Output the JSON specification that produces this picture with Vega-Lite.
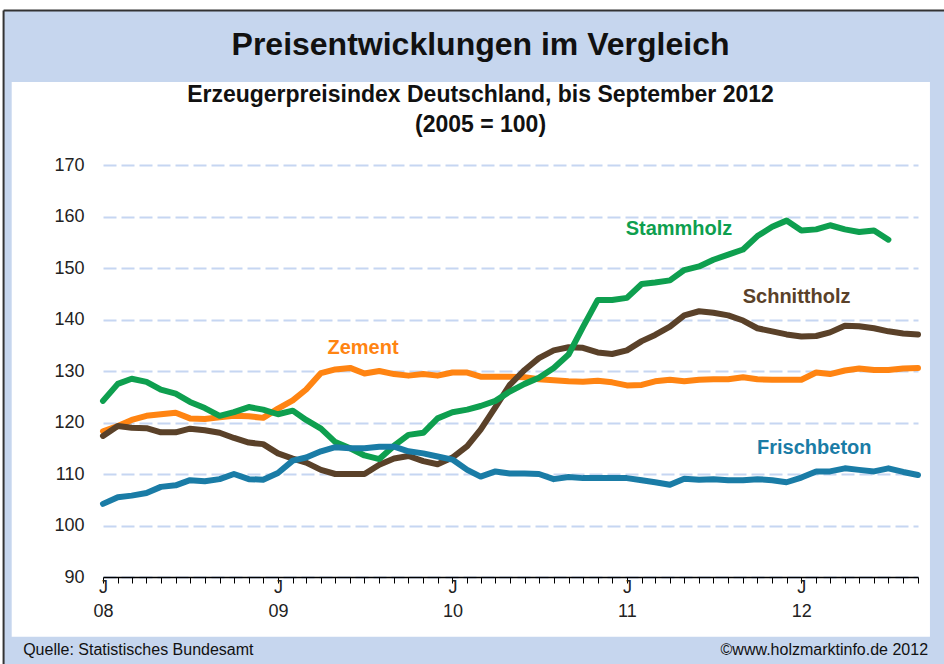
{
  "$schema": "https://vega.github.io/schema/vega-lite/v6.json",
  "width": 815,
  "height": 412,
  "autosize": {"type": "none"},
  "padding": {"left": 103, "top": 165, "right": 26, "bottom": 87},
  "background": "white",
  "config": {
    "view": {"stroke": null},
    "font": "Liberation Sans"
  },
  "title": {
    "text": "Preisentwicklungen im Vergleich",
    "subtitle": ["Erzeugerpreisindex Deutschland, bis September 2012", "(2005 = 100)"],
    "anchor": "middle",
    "dx": -30,
    "offset": -128,
    "font": "Liberation Sans",
    "fontSize": 32,
    "fontWeight": "bold",
    "color": "#111111",
    "subtitleFont": "Liberation Sans",
    "subtitleFontSize": 23,
    "subtitleFontWeight": "bold",
    "subtitleColor": "#111111",
    "subtitleLineHeight": 30,
    "subtitlePadding": 22
  },
  "datasets": {
    "preise": [
      {"date": "2008-01-01", "Stammholz": 124.2, "Schnittholz": 117.4, "Zement": 118.3, "Frischbeton": 104.2},
      {"date": "2008-02-01", "Stammholz": 127.5, "Schnittholz": 119.3, "Zement": 119.3, "Frischbeton": 105.5},
      {"date": "2008-03-01", "Stammholz": 128.5, "Schnittholz": 119.0, "Zement": 120.5, "Frischbeton": 105.8},
      {"date": "2008-04-01", "Stammholz": 127.9, "Schnittholz": 118.9, "Zement": 121.3, "Frischbeton": 106.3},
      {"date": "2008-05-01", "Stammholz": 126.4, "Schnittholz": 118.1, "Zement": 121.6, "Frischbeton": 107.5},
      {"date": "2008-06-01", "Stammholz": 125.6, "Schnittholz": 118.1, "Zement": 121.9, "Frischbeton": 107.8},
      {"date": "2008-07-01", "Stammholz": 124.0, "Schnittholz": 118.8, "Zement": 120.8, "Frischbeton": 108.8},
      {"date": "2008-08-01", "Stammholz": 122.8, "Schnittholz": 118.5, "Zement": 120.7, "Frischbeton": 108.6},
      {"date": "2008-09-01", "Stammholz": 121.3, "Schnittholz": 118.0, "Zement": 121.0, "Frischbeton": 109.0},
      {"date": "2008-10-01", "Stammholz": 122.0, "Schnittholz": 117.0, "Zement": 121.3, "Frischbeton": 110.0},
      {"date": "2008-11-01", "Stammholz": 123.0, "Schnittholz": 116.1, "Zement": 121.2, "Frischbeton": 109.0},
      {"date": "2008-12-01", "Stammholz": 122.5, "Schnittholz": 115.8, "Zement": 120.9, "Frischbeton": 108.9},
      {"date": "2009-01-01", "Stammholz": 121.6, "Schnittholz": 114.0, "Zement": 122.7, "Frischbeton": 110.2},
      {"date": "2009-02-01", "Stammholz": 122.3, "Schnittholz": 113.0, "Zement": 124.3, "Frischbeton": 112.6},
      {"date": "2009-03-01", "Stammholz": 120.5, "Schnittholz": 112.2, "Zement": 126.4, "Frischbeton": 113.2},
      {"date": "2009-04-01", "Stammholz": 118.8, "Schnittholz": 110.8, "Zement": 129.6, "Frischbeton": 114.4},
      {"date": "2009-05-01", "Stammholz": 116.2, "Schnittholz": 110.0, "Zement": 130.3, "Frischbeton": 115.2},
      {"date": "2009-06-01", "Stammholz": 115.0, "Schnittholz": 110.0, "Zement": 130.6, "Frischbeton": 115.0},
      {"date": "2009-07-01", "Stammholz": 113.6, "Schnittholz": 110.0, "Zement": 129.5, "Frischbeton": 115.0},
      {"date": "2009-08-01", "Stammholz": 112.9, "Schnittholz": 111.8, "Zement": 130.0, "Frischbeton": 115.3},
      {"date": "2009-09-01", "Stammholz": 115.5, "Schnittholz": 113.0, "Zement": 129.4, "Frischbeton": 115.3},
      {"date": "2009-10-01", "Stammholz": 117.6, "Schnittholz": 113.5, "Zement": 129.1, "Frischbeton": 114.4},
      {"date": "2009-11-01", "Stammholz": 118.0, "Schnittholz": 112.5, "Zement": 129.4, "Frischbeton": 114.0},
      {"date": "2009-12-01", "Stammholz": 120.8, "Schnittholz": 111.9, "Zement": 129.1, "Frischbeton": 113.4},
      {"date": "2010-01-01", "Stammholz": 122.0, "Schnittholz": 113.2, "Zement": 129.7, "Frischbeton": 112.8},
      {"date": "2010-02-01", "Stammholz": 122.5, "Schnittholz": 115.4, "Zement": 129.7, "Frischbeton": 110.8},
      {"date": "2010-03-01", "Stammholz": 123.2, "Schnittholz": 118.6, "Zement": 128.9, "Frischbeton": 109.5},
      {"date": "2010-04-01", "Stammholz": 124.2, "Schnittholz": 123.0, "Zement": 128.9, "Frischbeton": 110.5},
      {"date": "2010-05-01", "Stammholz": 126.0, "Schnittholz": 127.3, "Zement": 128.9, "Frischbeton": 110.1},
      {"date": "2010-06-01", "Stammholz": 127.5, "Schnittholz": 130.2, "Zement": 128.8, "Frischbeton": 110.1},
      {"date": "2010-07-01", "Stammholz": 128.7, "Schnittholz": 132.5, "Zement": 128.4, "Frischbeton": 110.0},
      {"date": "2010-08-01", "Stammholz": 130.6, "Schnittholz": 134.0, "Zement": 128.2, "Frischbeton": 109.0},
      {"date": "2010-09-01", "Stammholz": 133.2, "Schnittholz": 134.6, "Zement": 128.0, "Frischbeton": 109.4},
      {"date": "2010-10-01", "Stammholz": 138.5, "Schnittholz": 134.5, "Zement": 127.9, "Frischbeton": 109.2},
      {"date": "2010-11-01", "Stammholz": 143.8, "Schnittholz": 133.6, "Zement": 128.1, "Frischbeton": 109.2},
      {"date": "2010-12-01", "Stammholz": 143.8, "Schnittholz": 133.3, "Zement": 127.8, "Frischbeton": 109.2},
      {"date": "2011-01-01", "Stammholz": 144.2, "Schnittholz": 134.0, "Zement": 127.2, "Frischbeton": 109.2},
      {"date": "2011-02-01", "Stammholz": 146.9, "Schnittholz": 135.8, "Zement": 127.3, "Frischbeton": 108.8},
      {"date": "2011-03-01", "Stammholz": 147.2, "Schnittholz": 137.0, "Zement": 128.0, "Frischbeton": 108.4},
      {"date": "2011-04-01", "Stammholz": 147.6, "Schnittholz": 138.6, "Zement": 128.3, "Frischbeton": 107.9},
      {"date": "2011-05-01", "Stammholz": 149.6, "Schnittholz": 140.8, "Zement": 128.0, "Frischbeton": 109.1},
      {"date": "2011-06-01", "Stammholz": 150.3, "Schnittholz": 141.6, "Zement": 128.3, "Frischbeton": 108.9},
      {"date": "2011-07-01", "Stammholz": 151.6, "Schnittholz": 141.3, "Zement": 128.4, "Frischbeton": 109.0},
      {"date": "2011-08-01", "Stammholz": 152.6, "Schnittholz": 140.8, "Zement": 128.4, "Frischbeton": 108.8},
      {"date": "2011-09-01", "Stammholz": 153.6, "Schnittholz": 139.8, "Zement": 128.8, "Frischbeton": 108.8},
      {"date": "2011-10-01", "Stammholz": 156.2, "Schnittholz": 138.3, "Zement": 128.4, "Frischbeton": 109.0},
      {"date": "2011-11-01", "Stammholz": 158.0, "Schnittholz": 137.7, "Zement": 128.3, "Frischbeton": 108.8},
      {"date": "2011-12-01", "Stammholz": 159.2, "Schnittholz": 137.1, "Zement": 128.3, "Frischbeton": 108.4},
      {"date": "2012-01-01", "Stammholz": 157.3, "Schnittholz": 136.7, "Zement": 128.3, "Frischbeton": 109.3},
      {"date": "2012-02-01", "Stammholz": 157.5, "Schnittholz": 136.8, "Zement": 129.7, "Frischbeton": 110.5},
      {"date": "2012-03-01", "Stammholz": 158.3, "Schnittholz": 137.5, "Zement": 129.4, "Frischbeton": 110.5},
      {"date": "2012-04-01", "Stammholz": 157.5, "Schnittholz": 138.8, "Zement": 130.1, "Frischbeton": 111.1},
      {"date": "2012-05-01", "Stammholz": 157.0, "Schnittholz": 138.7, "Zement": 130.5, "Frischbeton": 110.8},
      {"date": "2012-06-01", "Stammholz": 157.3, "Schnittholz": 138.3, "Zement": 130.2, "Frischbeton": 110.5},
      {"date": "2012-07-01", "Stammholz": 155.5, "Schnittholz": 137.7, "Zement": 130.2, "Frischbeton": 111.1},
      {"date": "2012-08-01", "Schnittholz": 137.3, "Zement": 130.5, "Frischbeton": 110.4},
      {"date": "2012-09-01", "Schnittholz": 137.1, "Zement": 130.6, "Frischbeton": 109.8}
    ]
  },
  "layer": [
    {
      "data": {"values": [{}]},
      "mark": {"type": "rect", "fill": "#C6D6EE", "clip": false},
      "encoding": {
        "x": {"datum": {"year": 2007, "month": 6, "date": 7, "utc": true}, "type": "temporal"},
        "x2": {"datum": {"year": 2012, "month": 12, "date": 15, "utc": true}},
        "y": {"datum": 200.0, "type": "quantitative"},
        "y2": {"datum": 186.1}
      }
    },
    {
      "data": {"values": [{}]},
      "mark": {"type": "rect", "fill": "#C6D6EE", "clip": false},
      "encoding": {
        "x": {"datum": {"year": 2007, "month": 6, "date": 7, "utc": true}, "type": "temporal"},
        "x2": {"datum": {"year": 2012, "month": 12, "date": 15, "utc": true}},
        "y": {"datum": 78.4, "type": "quantitative"},
        "y2": {"datum": 68.0}
      }
    },
    {
      "data": {"values": [{}]},
      "mark": {"type": "rect", "fill": "#C6D6EE", "clip": false},
      "encoding": {
        "x": {"datum": {"year": 2007, "month": 6, "date": 7, "utc": true}, "type": "temporal"},
        "x2": {"datum": {"year": 2007, "month": 6, "date": 24, "utc": true}},
        "y": {"datum": 200.0, "type": "quantitative"},
        "y2": {"datum": 68.0}
      }
    },
    {
      "data": {"values": [{}]},
      "mark": {"type": "rect", "fill": "#C6D6EE", "clip": false},
      "encoding": {
        "x": {"datum": {"year": 2012, "month": 9, "date": 26, "utc": true}, "type": "temporal"},
        "x2": {"datum": {"year": 2012, "month": 12, "date": 15, "utc": true}},
        "y": {"datum": 200.0, "type": "quantitative"},
        "y2": {"datum": 68.0}
      }
    },
    {
      "data": {"values": [{}]},
      "mark": {"type": "rule", "color": "#333333", "strokeWidth": 2, "clip": false},
      "encoding": {
        "x": {"datum": {"year": 2007, "month": 6, "date": 7, "utc": true}, "type": "temporal"},
        "x2": {"datum": {"year": 2012, "month": 12, "date": 15, "utc": true}},
        "y": {"datum": 200.0, "type": "quantitative"}
      }
    },
    {
      "data": {"values": [{}]},
      "mark": {"type": "rule", "color": "#333333", "strokeWidth": 2, "clip": false},
      "encoding": {
        "x": {"datum": {"year": 2007, "month": 6, "date": 7, "utc": true}, "type": "temporal"},
        "y": {"datum": 200.0, "type": "quantitative"},
        "y2": {"datum": 68.0}
      }
    },
    {
      "data": {"name": "preise"},
      "transform": [
        {"fold": ["Zement", "Schnittholz", "Stammholz", "Frischbeton"], "as": ["Reihe", "Index"]}
      ],
      "mark": {"type": "line", "strokeWidth": 6, "strokeJoin": "round", "strokeCap": "round"},
      "encoding": {
        "x": {
          "field": "date",
          "type": "temporal",
          "scale": {
            "type": "utc",
            "domain": [
              {"year": 2008, "month": 1, "date": 1, "utc": true},
              {"year": 2012, "month": 9, "date": 1, "utc": true}
            ],
            "nice": false
          },
          "axis": {
            "title": null,
            "tickCount": {"interval": "month", "step": 1},
            "domainColor": "#000000",
            "domainWidth": 1.5,
            "tickColor": "#000000",
            "tickWidth": 1,
            "tickSize": 6,
            "labelExpr": "utcmonth(datum.value) == 0 ? ['J', utcFormat(datum.value, '%y')] : ''",
            "labelAlign": "center",
            "labelBaseline": "top",
            "labelPadding": -5,
            "labelFontSize": 18,
            "labelLineHeight": 24,
            "labelColor": "#222222",
            "labelOverlap": false,
            "labelFlush": false,
            "grid": false
          }
        },
        "y": {
          "field": "Index",
          "type": "quantitative",
          "scale": {"domain": [90, 170], "nice": false, "zero": false},
          "axis": {
            "title": null,
            "values": [90, 100, 110, 120, 130, 140, 150, 160, 170],
            "domain": false,
            "ticks": false,
            "labelPadding": 19,
            "labelFontSize": 18,
            "labelColor": "#222222",
            "grid": true,
            "gridColor": "#C6D6F2",
            "gridWidth": 2,
            "gridDash": [13, 5]
          }
        },
        "color": {
          "field": "Reihe",
          "type": "nominal",
          "scale": {
            "domain": ["Stammholz", "Schnittholz", "Zement", "Frischbeton"],
            "range": ["#0E9F4F", "#5A4129", "#FF8412", "#1A7CA6"]
          },
          "legend": null
        }
      }
    },
    {
      "data": {"values": [{}]},
      "mark": {"type": "text", "text": "Stammholz", "color": "#0E9F4F", "fontSize": 20, "fontWeight": "bold", "align": "center", "baseline": "middle"},
      "encoding": {
        "x": {"datum": {"year": 2011, "month": 4, "date": 20, "utc": true}, "type": "temporal"},
        "y": {"datum": 157.5, "type": "quantitative"}
      }
    },
    {
      "data": {"values": [{}]},
      "mark": {"type": "text", "text": "Schnittholz", "color": "#5A4129", "fontSize": 20, "fontWeight": "bold", "align": "center", "baseline": "middle"},
      "encoding": {
        "x": {"datum": {"year": 2011, "month": 12, "date": 22, "utc": true}, "type": "temporal"},
        "y": {"datum": 144.4, "type": "quantitative"}
      }
    },
    {
      "data": {"values": [{}]},
      "mark": {"type": "text", "text": "Zement", "color": "#FF8412", "fontSize": 20, "fontWeight": "bold", "align": "center", "baseline": "middle"},
      "encoding": {
        "x": {"datum": {"year": 2009, "month": 6, "date": 28, "utc": true}, "type": "temporal"},
        "y": {"datum": 134.4, "type": "quantitative"}
      }
    },
    {
      "data": {"values": [{}]},
      "mark": {"type": "text", "text": "Frischbeton", "color": "#1A7CA6", "fontSize": 20, "fontWeight": "bold", "align": "center", "baseline": "middle"},
      "encoding": {
        "x": {"datum": {"year": 2012, "month": 1, "date": 28, "utc": true}, "type": "temporal"},
        "y": {"datum": 115.0, "type": "quantitative"}
      }
    },
    {
      "data": {"values": [{}]},
      "mark": {"type": "text", "text": "Quelle: Statistisches Bundesamt", "color": "#111111", "fontSize": 16, "align": "left", "baseline": "middle", "clip": false},
      "encoding": {
        "x": {"datum": {"year": 2007, "month": 7, "date": 18, "utc": true}, "type": "temporal"},
        "y": {"datum": 75.8, "type": "quantitative"}
      }
    },
    {
      "data": {"values": [{}]},
      "mark": {"type": "text", "text": "©www.holzmarktinfo.de 2012", "color": "#111111", "fontSize": 16, "align": "right", "baseline": "middle", "clip": false},
      "encoding": {
        "x": {"datum": {"year": 2012, "month": 9, "date": 22, "utc": true}, "type": "temporal"},
        "y": {"datum": 75.8, "type": "quantitative"}
      }
    }
  ]
}
